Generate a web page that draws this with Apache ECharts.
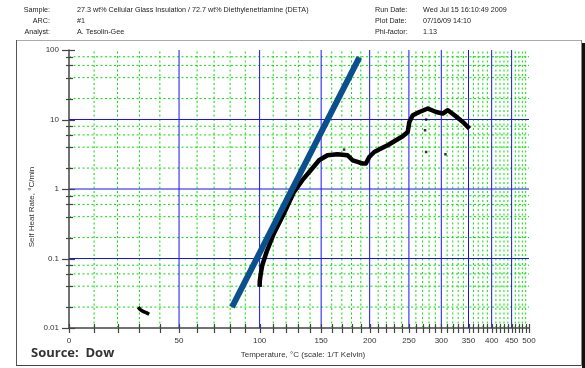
<!DOCTYPE html>
<html><head><meta charset="utf-8">
<script src="https://cdn.jsdelivr.net/npm/echarts@6/dist/echarts.min.js"></script>
<style>html,body{margin:0;padding:0;background:#fff}#c{width:585px;height:368px}</style>
</head><body><div id="c"></div>
<script>
// ---- tick values (°C and °C/min) ----
const xMajorTicks = [0, 50, 100, 150, 200, 250, 300, 350, 400, 450, 500];
const xMinorTicks = [10, 20, 30, 40, 60, 70, 80, 90, 110, 120, 130, 140, 160, 170, 180, 190,
  210, 220, 230, 240, 260, 270, 280, 290, 310, 320, 330, 340, 360, 370, 380, 390,
  410, 420, 430, 440, 460, 470, 480, 490];
const yMajorTicks = [0.01, 0.1, 1, 10, 100];
const yMinorTicks = [0.02, 0.04, 0.06, 0.08, 0.2, 0.4, 0.6, 0.8, 2, 4, 6, 8, 20, 40, 60, 80];
const xMajorGrid = [50, 100, 150, 200, 250, 300, 350, 400, 450];
const yMajorGrid = [0.1, 1, 10];

// ---- data: temperature (°C) and self heat rate (°C/min) ----
const clusterT = [29.4, 30.5, 32.0, 33.5, 34.7];
const clusterRate = [0.0200, 0.0183, 0.0172, 0.0165, 0.0158];
const curveT = [100.0, 100.1, 100.7, 101.9, 105.1, 110.5, 118.3, 126.4, 133.4, 140.6, 148.1, 155.9,
  165.6, 175.8, 181.1, 186.5, 192.0, 195.7, 199.5, 205.3, 213.4, 221.7, 232.4, 241.4, 248.3,
  250.6, 255.5, 265.2, 278.0, 291.4, 302.6, 311.3, 323.2, 339.0, 352.0];
const curveRate = [0.039, 0.047, 0.058, 0.080, 0.125, 0.229, 0.445, 0.909, 1.34, 1.86, 2.59, 3.06,
  3.16, 3.06, 2.59, 2.45, 2.32, 2.32, 2.89, 3.41, 3.82, 4.26, 5.02, 5.74, 6.61,
  9.2, 11.5, 12.8, 14.4, 12.8, 12.2, 13.6, 11.5, 9.2, 7.4];
const strayT = [172.3, 273.8, 275.4, 275.4, 307.1];
const strayRate = [3.69, 7.0, 9.97, 3.41, 3.16];
const slopeT = [81.2, 188.4];
const slopeRate = [0.0200, 78.3];

// ---- header texts ----
const headerLeftLabels = ['Sample:', 'ARC:', 'Analyst:'];
const headerLeftValues = ['27.3 wt% Cellular Glass Insulation / 72.7 wt% Diethylenetriamine (DETA)', '#1', 'A. Tesolin-Gee'];
const headerRightLabels = ['Run Date:', 'Plot Date:', 'Phi-factor:'];
const headerRightValues = ['Wed Jul 15 16:10:49 2009', '07/16/09 14:10', '1.13'];

// 1/T (Kelvin) scale
const inv = t => -1000 / (t + 273.15);
const back = v => Math.round(-1000 / v - 273.15);
const pairs = (xs, ys) => xs.map((t, i) => [inv(t), ys[i]]);

const FONT = '"Liberation Sans", Arial, sans-serif';
const xMin = inv(0), xMax = inv(500);
const yMin = 0.01, yMax = 100;

// grid lines as broken line series (segments separated by '-')
function vLines(ts) {
  const d = [];
  ts.forEach(t => { d.push([inv(t), yMin], [inv(t), yMax], [inv(t), '-']); });
  return d;
}
function hLines(vs) {
  const d = [];
  vs.forEach(v => { d.push([xMin, v], [xMax, v], [xMax, '-']); });
  return d;
}
function gridSeries(data, color, dash, z) {
  return { type: 'line', data: data, z: z, silent: true, symbol: 'none', connectNulls: false,
    animation: false, emphasis: { disabled: true },
    lineStyle: { color: color, width: 1, type: dash } };
}

const option = {
  animation: false,
  backgroundColor: '#fff',
  grid: { left: 69, right: 56, top: 50, bottom: 40, containLabel: false },
  xAxis: {
    type: 'value', min: xMin, max: xMax,
    axisLine: { show: true, onZero: false, lineStyle: { color: '#444', width: 1.5 } },
    axisTick: { show: false },
    axisLabel: { customValues: xMajorTicks.map(inv), formatter: v => String(back(v)), hideOverlap: false,
      fontSize: 8, color: '#333', fontFamily: FONT, margin: 9 },
    splitLine: { show: false }
  },
  yAxis: {
    type: 'log', logBase: 10, min: yMin, max: yMax,
    axisLine: { show: true, onZero: false, lineStyle: { color: '#444', width: 1.5 } },
    axisTick: { show: false },
    axisLabel: { customValues: yMajorTicks, formatter: v => String(v), hideOverlap: false,
      fontSize: 8, color: '#333', fontFamily: FONT, margin: 10 },
    splitLine: { show: false }, minorTick: { show: false }
  },
  series: [
    gridSeries(vLines(xMinorTicks), '#00e000', [2, 2.5], 1),
    gridSeries(hLines(yMinorTicks), '#00e000', [2, 2.5], 1),
    gridSeries(vLines(xMajorGrid), '#1515ee', 'solid', 2),
    gridSeries(hLines(yMajorGrid), '#1515ee', 'solid', 2),
    { type: 'line', data: pairs(clusterT, clusterRate), symbol: 'none', z: 3,
      lineStyle: { color: '#000', width: 3.5 } },
    { type: 'line', data: pairs(curveT, curveRate), symbol: 'none', z: 3,
      lineStyle: { color: '#000', width: 4.5, join: 'round' } },
    { type: 'scatter', data: pairs(strayT, strayRate), symbol: 'rect', symbolSize: 2.5, z: 3,
      itemStyle: { color: '#000' } },
    { type: 'line', data: pairs(slopeT, slopeRate), symbol: 'none', z: 4,
      lineStyle: { color: '#0b4f8c', width: 6, cap: 'butt' } }
  ]
};
const chart = echarts.init(document.getElementById('c'), null, { renderer: 'canvas' });
chart.setOption(option);

// ---- decorations: frame, header, titles, ticks placed through the chart's scales ----
const graphics = [];
graphics.push({ type: 'line', shape: { x1: 16, y1: 40.5, x2: 581, y2: 40.5 }, style: { stroke: '#aaa', lineWidth: 1 } });
graphics.push({ type: 'line', shape: { x1: 16.5, y1: 40, x2: 16.5, y2: 366 }, style: { stroke: '#555', lineWidth: 1 } });
graphics.push({ type: 'line', shape: { x1: 16, y1: 365.5, x2: 582, y2: 365.5 }, style: { stroke: '#444', lineWidth: 1 } });
graphics.push({ type: 'line', shape: { x1: 581.5, y1: 40, x2: 581.5, y2: 366 }, style: { stroke: '#888', lineWidth: 1 } });
graphics.push({ type: 'rect', shape: { x: 582, y: 43, width: 3, height: 325 }, style: { fill: '#111' } });
const rowsY = [10, 21, 32];
const HF = 7.2;
const txt = (x, y, s, align) => ({ type: 'text', x: x, y: y,
  style: { text: s, fontSize: HF, fontFamily: FONT, fill: '#222', align: align, verticalAlign: 'middle' } });
headerLeftLabels.forEach((s, i) => graphics.push(txt(50, rowsY[i], s, 'right')));
headerLeftValues.forEach((s, i) => graphics.push(txt(77, rowsY[i], s, 'left')));
headerRightLabels.forEach((s, i) => graphics.push(txt(375, rowsY[i], s, 'left')));
headerRightValues.forEach((s, i) => graphics.push(txt(423, rowsY[i], s, 'left')));
graphics.push({ type: 'text', x: 303, y: 355, style: { text: 'Temperature, \u00B0C (scale: 1/T Kelvin)', fontSize: 8,
  fontFamily: FONT, fill: '#333', align: 'center', verticalAlign: 'middle' } });
graphics.push({ type: 'text', x: 32, y: 207, rotation: Math.PI / 2, style: { text: 'Self Heat Rate, \u00B0C/min', fontSize: 8,
  fontFamily: FONT, fill: '#333', align: 'center', verticalAlign: 'middle' } });
graphics.push({ type: 'text', x: 31, y: 353, style: { text: 'Source:  Dow', fontSize: 13, fontWeight: 'bold',
  fontFamily: '"Open Sans", Lato, sans-serif', fill: '#333', align: 'left', verticalAlign: 'middle' } });

const tickStyle = { stroke: '#444', lineWidth: 1.2 };
const toPx = (x, y) => chart.convertToPixel({ gridIndex: 0 }, [x, y]);
xMajorTicks.concat(xMinorTicks).forEach(t => {
  const p = toPx(inv(t), yMin);
  const x = Math.round(p[0]) + 0.5;
  graphics.push({ type: 'line', z: 100, shape: { x1: x, y1: p[1] - 4, x2: x, y2: p[1] + 5 }, style: tickStyle });
});
yMajorTicks.forEach(v => {
  const p = toPx(xMin, v);
  const y = Math.round(p[1]) + 0.5;
  graphics.push({ type: 'line', z: 100, shape: { x1: p[0] - 7, y1: y, x2: p[0] + 6, y2: y }, style: tickStyle });
});
yMinorTicks.forEach(v => {
  const p = toPx(xMin, v);
  const y = Math.round(p[1]) + 0.5;
  graphics.push({ type: 'line', z: 100, shape: { x1: p[0] - 3, y1: y, x2: p[0] + 4, y2: y }, style: tickStyle });
});
chart.setOption({ graphic: graphics });
</script></body></html>
